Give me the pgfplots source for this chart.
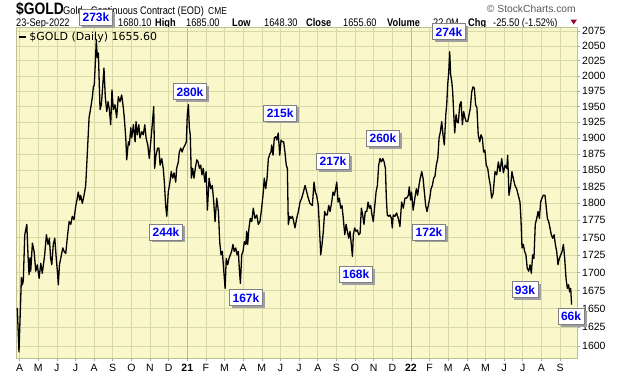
\documentclass[border=0pt]{standalone}
\usepackage{fontspec}
\setmainfont{Liberation Sans}
\newfontfamily\hdr[FakeStretch=0.84]{Liberation Sans}
\newfontfamily\dejavu{DejaVu Sans}
\usepackage{pgfplots}
\pgfplotsset{compat=1.18}
\usetikzlibrary{shadows}
\definecolor{bgc}{RGB}{250,248,202}
\definecolor{gridc}{RGB}{214,218,168}
\definecolor{yearc}{RGB}{184,192,134}
\definecolor{framec}{RGB}{190,192,146}
\definecolor{volblue}{RGB}{0,0,240}
\definecolor{tric}{RGB}{150,0,50}
\definecolor{shadc}{RGB}{160,160,160}
\tikzset{volbox/.style={draw=gray, line width=0.8pt, fill=white, text=volblue,
  font=\bfseries\fontsize{12}{12}\selectfont, inner xsep=3pt, inner ysep=0pt,
  minimum height=16pt, drop shadow={shadow xshift=2.5pt, shadow yshift=-2.5pt, fill=shadc, opacity=1}}}
\begin{document}
\begin{tikzpicture}[x=1pt,y=1pt]
\useasboundingbox (-16,-17.5) rectangle (604,358.5);
% header line 1
\node[anchor=base west, inner sep=0pt, font=\hdr\bfseries\fontsize{16.5}{16}\selectfont] at (0,344.5) {\$GOLD};
\node[anchor=base west, inner sep=0pt, font=\hdr\fontsize{11}{11}\selectfont] at (47,344.5) {Gold - Continuous Contract (EOD)};
\node[anchor=base west, inner sep=0pt, font=\hdr\fontsize{10}{10}\selectfont] at (192,344.5) {CME};
\node[anchor=base east, inner sep=0pt, font=\fontsize{10.3}{10}\selectfont, text=black!65] at (560,346.5) {\textcopyright\ StockCharts.com};
% header line 2
\begin{scope}[every node/.style={anchor=base west, inner sep=0pt, font=\hdr\fontsize{11}{11}\selectfont}]
\node at (0,332) {23-Sep-2022};
\node at (69,332) {\textbf{Open}};
\node at (102,332) {1680.10};
\node at (139,332) {\textbf{High}};
\node at (170,332) {1685.00};
\node at (216,332) {\textbf{Low}};
\node at (248,332) {1648.30};
\node at (290,332) {\textbf{Close}};
\node at (327,332) {1655.60};
\node at (371,332) {\textbf{Volume}};
\node at (417,332) {22.0M};
\node at (452,332) {\textbf{Chg}};
\node at (477,332) {-25.50 (-1.52\%)};
\end{scope}
\fill[tric] (554.5,339) -- (561,339) -- (557.75,334) -- cycle;
\begin{axis}[
  at={(0,0)}, anchor=south west, scale only axis,
  width=561pt, height=330.5pt,
  xmin=-0.19, xmax=29.91,
  ymode=log, ymin=1583.7, ymax=2080.8,
  clip=false,
  axis background/.style={fill=bgc},
  axis line style={framec, line width=0.8pt},
  grid=major, grid style={gridc, line width=0.6pt},
  tick align=outside, major tick length=3pt,
  tick style={color=gray!70, line width=0.6pt},
  xtick pos=lower, ytick pos=right, yticklabel pos=right,
  xtick={0,...,29},
  xticklabels={A,M,J,J,A,S,O,N,D,\textbf{21},F,M,A,M,J,J,A,S,O,N,D,\textbf{22},F,M,A,M,J,J,A,S},
  extra x ticks={9,21}, extra x tick labels={},
  extra x tick style={grid style={yearc, line width=0.8pt}},
  ytick={1600,1625,1650,1675,1700,1725,1750,1775,1800,1825,1850,1875,1900,1925,1950,1975,2000,2025,2050,2075},
  yticklabels={1600,1625,1650,1675,1700,1725,1750,1775,1800,1825,1850,1875,1900,1925,1950,1975,2000,2025,2050,2075},
  yticklabel style={font=\fontsize{10.5}{11}\selectfont, inner sep=1pt, anchor=west, xshift=1pt},
  xticklabel style={font=\fontsize{10.5}{11}\selectfont, inner sep=1pt, anchor=north, yshift=-2pt},
  legend style={at={(rel axis cs:0,1)}, anchor=north west, draw=none, fill=none,
    font=\dejavu\fontsize{11}{11}\selectfont, inner sep=1pt, xshift=1pt, yshift=-1pt},
  legend image code/.code={\draw[line width=2.2pt, black] (0pt,0pt) -- (7pt,0pt);},
]
\addplot[black, line width=1.3pt, line join=round] table {
x y
-0.12 1651
-0.03 1592
0.10 1693
0.15 1683
0.20 1688
0.28 1754
0.39 1769
0.46 1721
0.51 1697
0.56 1721
0.60 1702
0.69 1742
0.78 1730
0.87 1702
0.95 1711
1.05 1692
1.14 1713
1.22 1699
1.35 1725
1.44 1754
1.53 1740
1.60 1749
1.67 1720
1.73 1711
1.81 1740
1.89 1749
1.97 1720
2.03 1702
2.08 1683
2.14 1711
2.21 1720
2.32 1735
2.39 1730
2.48 1727
2.56 1749
2.66 1773
2.75 1769
2.83 1781
2.92 1776
3.02 1797
3.10 1808
3.15 1817
3.23 1805
3.28 1812
3.37 1800
3.46 1812
3.55 1827
3.64 1878
3.73 1932
3.82 1948
3.91 1966
3.96 1982
4.01 1985
4.07 2024
4.12 2061
4.17 2030
4.23 2038
4.28 1985
4.32 1945
4.39 1953
4.46 1982
4.53 2013
4.60 1966
4.68 1942
4.75 1958
4.82 1945
4.89 1921
4.96 1977
5.03 1945
5.12 1953
5.21 1932
5.30 1966
5.39 1958
5.48 1969
5.57 1948
5.62 1932
5.70 1900
5.75 1866
5.84 1894
5.89 1889
5.97 1916
6.02 1900
6.11 1921
6.20 1894
6.25 1926
6.32 1905
6.40 1921
6.46 1900
6.56 1910
6.64 1905
6.72 1921
6.79 1900
6.88 1889
6.96 1868
7.04 1894
7.12 1921
7.20 1950
7.25 1853
7.32 1873
7.41 1884
7.48 1884
7.54 1858
7.63 1868
7.71 1853
7.77 1832
7.84 1797
7.90 1781
7.98 1817
8.07 1832
8.14 1848
8.22 1838
8.29 1846
8.38 1832
8.43 1853
8.52 1863
8.57 1878
8.65 1884
8.72 1878
8.79 1884
8.88 1889
8.95 1894
9.00 1937
9.06 1953
9.11 1916
9.16 1905
9.22 1838
9.29 1853
9.36 1838
9.43 1853
9.51 1866
9.58 1863
9.65 1853
9.72 1858
9.79 1843
9.86 1853
9.94 1832
10.01 1848
10.08 1790
10.17 1838
10.26 1822
10.34 1827
10.42 1802
10.49 1773
10.58 1808
10.67 1788
10.74 1744
10.81 1725
10.88 1730
10.96 1702
11.03 1678
11.09 1720
11.17 1711
11.24 1720
11.31 1725
11.38 1730
11.45 1740
11.52 1730
11.60 1735
11.67 1725
11.74 1730
11.79 1706
11.85 1685
11.92 1725
11.99 1730
12.06 1744
12.14 1740
12.19 1759
12.24 1740
12.31 1764
12.38 1778
12.46 1773
12.54 1793
12.63 1778
12.73 1783
12.81 1769
12.90 1773
12.99 1793
13.08 1817
13.13 1838
13.21 1822
13.28 1838
13.35 1868
13.44 1876
13.49 1878
13.53 1889
13.60 1873
13.67 1900
13.75 1902
13.81 1897
13.88 1908
13.96 1873
14.03 1897
14.10 1894
14.17 1894
14.24 1878
14.31 1858
14.37 1853
14.42 1769
14.50 1781
14.57 1778
14.64 1781
14.71 1773
14.78 1764
14.87 1778
14.96 1788
15.05 1802
15.14 1808
15.23 1817
15.32 1827
15.41 1817
15.49 1808
15.58 1800
15.71 1797
15.80 1832
15.87 1817
15.94 1812
16.03 1797
16.11 1754
16.16 1725
16.23 1740
16.30 1759
16.37 1788
16.44 1783
16.51 1783
16.59 1797
16.66 1788
16.75 1802
16.82 1817
16.89 1812
16.96 1822
17.02 1832
17.09 1802
17.16 1808
17.23 1793
17.30 1797
17.37 1778
17.45 1754
17.52 1769
17.59 1759
17.66 1749
17.73 1759
17.80 1740
17.86 1723
17.91 1754
17.98 1764
18.05 1759
18.12 1761
18.20 1754
18.27 1756
18.34 1793
18.41 1783
18.48 1769
18.55 1788
18.63 1788
18.70 1802
18.77 1793
18.84 1797
18.91 1783
18.98 1773
19.06 1797
19.13 1817
19.20 1827
19.27 1858
19.34 1868
19.41 1863
19.49 1868
19.56 1863
19.63 1853
19.68 1808
19.73 1783
19.81 1781
19.88 1783
19.95 1778
20.00 1764
20.05 1783
20.14 1781
20.23 1786
20.32 1778
20.41 1766
20.50 1802
20.59 1793
20.68 1808
20.77 1808
20.86 1812
20.91 1825
20.98 1805
21.03 1817
21.12 1790
21.21 1808
21.29 1822
21.36 1812
21.43 1827
21.50 1838
21.58 1848
21.65 1838
21.72 1817
21.79 1797
21.86 1788
21.93 1797
22.01 1808
22.08 1822
22.15 1827
22.22 1838
22.29 1841
22.36 1858
22.44 1868
22.51 1900
22.58 1910
22.65 1926
22.72 1905
22.79 1889
22.87 1937
22.92 1953
22.97 1985
23.03 2007
23.08 2040
23.13 2002
23.19 1991
23.24 1974
23.29 1942
23.35 1908
23.42 1937
23.47 1926
23.54 1924
23.62 1953
23.69 1958
23.76 1921
23.83 1942
23.90 1932
23.97 1926
24.05 1926
24.12 1937
24.19 1948
24.26 1974
24.33 1982
24.40 1980
24.47 1953
24.54 1948
24.61 1905
24.69 1894
24.76 1905
24.83 1900
24.90 1878
24.97 1881
25.04 1858
25.12 1853
25.19 1838
25.26 1827
25.33 1808
25.41 1815
25.51 1848
25.60 1843
25.69 1863
25.78 1848
25.87 1868
25.96 1846
26.05 1858
26.14 1853
26.19 1873
26.26 1812
26.35 1827
26.42 1848
26.49 1838
26.58 1827
26.67 1822
26.76 1812
26.85 1802
26.90 1778
26.96 1735
27.03 1740
27.10 1730
27.17 1725
27.24 1706
27.32 1702
27.39 1711
27.46 1699
27.53 1725
27.60 1720
27.67 1769
27.75 1778
27.82 1788
27.89 1778
27.96 1802
28.03 1808
28.10 1812
28.19 1812
28.25 1797
28.32 1778
28.39 1773
28.46 1764
28.53 1754
28.61 1749
28.68 1754
28.75 1740
28.82 1730
28.89 1711
28.96 1720
29.04 1725
29.11 1730
29.18 1740
29.25 1720
29.32 1692
29.39 1678
29.46 1683
29.51 1673
29.57 1678
29.62 1655.6
};
\addlegendentry{\$GOLD (Daily) 1655.60}
\node[volbox] at (axis cs:4.10,2099) {273k};
\node[volbox] at (axis cs:23.04,2074) {274k};
\node[volbox] at (axis cs:9.15,1974) {280k};
\node[volbox] at (axis cs:7.86,1758) {244k};
\node[volbox] at (axis cs:13.98,1940) {215k};
\node[volbox] at (axis cs:12.15,1665) {167k};
\node[volbox] at (axis cs:16.82,1864) {217k};
\node[volbox] at (axis cs:19.50,1899) {260k};
\node[volbox] at (axis cs:18.05,1697) {168k};
\node[volbox] at (axis cs:21.97,1758) {172k};
\node[volbox] at (axis cs:27.12,1676) {93k};
\node[volbox] at (axis cs:29.59,1640) {66k};
\end{axis}
\end{tikzpicture}
\end{document}
